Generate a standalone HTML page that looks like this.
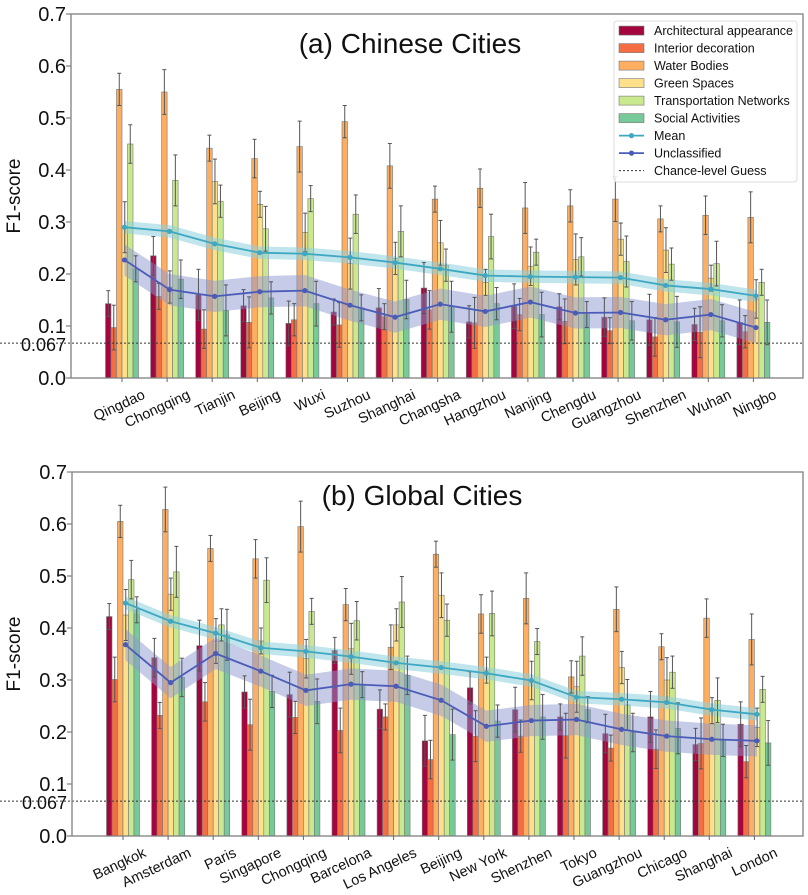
<!DOCTYPE html>
<html><head><meta charset="utf-8">
<style>
html,body{margin:0;padding:0;background:#fff;}
svg{display:block;font-family:"Liberation Sans",Arial,sans-serif;}
</style></head>
<body>
<svg id="s" width="808" height="895" viewBox="0 0 808 895" xmlns="http://www.w3.org/2000/svg"></svg>
<script>
const cols=["#a3053f","#f46d43","#fdae61","#fee08b","#c9e98f","#78c99a"];
const A={
 top:14,bot:378,left:71,right:803,title:"(a) Chinese Cities",tx:410,ty:53,
 cities:["Qingdao","Chongqing","Tianjin","Beijing","Wuxi","Suzhou","Shanghai","Changsha","Hangzhou","Nanjing","Chengdu","Guangzhou","Shenzhen","Wuhan","Ningbo"],
 v:[[0.143,0.097,0.555,0.29,0.45,0.21],[0.235,0.157,0.55,0.175,0.38,0.19],[0.16,0.094,0.442,0.378,0.34,0.13],[0.139,0.107,0.422,0.334,0.287,0.154],[0.105,0.112,0.445,0.28,0.345,0.143],[0.127,0.102,0.493,0.22,0.315,0.135],[0.135,0.118,0.408,0.23,0.282,0.151],[0.173,0.131,0.344,0.26,0.217,0.137],[0.108,0.106,0.365,0.184,0.272,0.143],[0.138,0.122,0.327,0.215,0.242,0.122],[0.137,0.109,0.331,0.228,0.233,0.122],[0.117,0.091,0.344,0.267,0.224,0.11],[0.112,0.079,0.306,0.246,0.219,0.108],[0.103,0.088,0.313,0.192,0.22,0.11],[0.107,0.089,0.309,0.152,0.184,0.107]],
 mean:[0.29,0.282,0.258,0.241,0.239,0.232,0.222,0.21,0.197,0.195,0.194,0.193,0.178,0.171,0.158],
 unc:[0.227,0.17,0.157,0.166,0.168,0.14,0.117,0.142,0.128,0.146,0.125,0.126,0.112,0.122,0.097],
 legend:true
};
const B={
 top:472,bot:836,left:72,right:803,title:"(b) Global Cities",tx:422,ty:505,
 cities:["Bangkok","Amsterdam","Paris","Singapore","Chongqing","Barcelona","Los Angeles","Beijing","New York","Shenzhen","Tokyo","Guangzhou","Chicago","Shanghai","London"],
 v:[[0.422,0.301,0.605,0.425,0.493,0.435],[0.343,0.232,0.628,0.465,0.508,0.305],[0.366,0.258,0.553,0.375,0.406,0.387],[0.277,0.214,0.533,0.375,0.492,0.278],[0.272,0.228,0.595,0.341,0.432,0.259],[0.357,0.203,0.445,0.36,0.414,0.291],[0.244,0.229,0.363,0.406,0.45,0.309],[0.183,0.147,0.542,0.463,0.415,0.195],[0.285,0.192,0.427,0.319,0.428,0.221],[0.243,0.192,0.457,0.299,0.374,0.229],[0.229,0.193,0.306,0.287,0.346,0.243],[0.197,0.169,0.436,0.324,0.252,0.199],[0.229,0.167,0.364,0.3,0.315,0.207],[0.176,0.178,0.419,0.241,0.261,0.184],[0.215,0.143,0.378,0.209,0.282,0.179]],
 mean:[0.448,0.413,0.39,0.362,0.355,0.345,0.333,0.324,0.313,0.299,0.267,0.263,0.257,0.243,0.234],
 unc:[0.368,0.295,0.351,0.317,0.28,0.292,0.288,0.261,0.211,0.222,0.224,0.205,0.192,0.186,0.183],
 legend:false
};
let out="";
function draw(P){
 const H=P.bot-P.top, Y=v=>P.bot-v/0.7*H;
 const cx=i=>122+i*45.1+(P===B?1:0);
 [0,0.1,0.2,0.3,0.4,0.5,0.6,0.7].forEach(t=>{
  const y=Y(t);
  out+=`<line x1="${P.left-5}" y1="${y}" x2="${P.left}" y2="${y}" stroke="#666" stroke-width="1"/>`;
  out+=`<text x="${P.left-5}" y="${y+7}" font-size="20" text-anchor="end" fill="#111">${t.toFixed(1)}</text>`;
 });
 const yc=Y(0.067);
 out+=`<text x="${P.left-5}" y="${yc+8}" font-size="18" text-anchor="end" fill="#111">0.067</text>`;
 out+=`<text transform="translate(20,${(P.top+P.bot)/2}) rotate(-90)" font-size="19" text-anchor="middle" fill="#111">F1-score</text>`;
 P.v.forEach((row,i)=>{
  const c=cx(i);
  row.forEach((val,j)=>{
   const x=c-16.5+j*5.5;
   out+=`<rect x="${x}" y="${Y(val)}" width="5.5" height="${Y(0)-Y(val)}" fill="${cols[j]}" stroke="#777" stroke-width="0.6"/>`;
  });
 });
 function band(arr,w,col,op){
  let up=arr.map((v,i)=>`${cx(i)+2.5},${Y(v+w)}`), dn=arr.map((v,i)=>`${cx(i)+2.5},${Y(v-w)}`).reverse();
  out+=`<polygon points="${up.join(" ")} ${dn.join(" ")}" fill="${col}" opacity="${op}"/>`;
 }
 band(P.mean,0.012,"#8ccfdc",0.55);
 band(P.unc,0.03,"#8d97cf",0.5);
 P.v.forEach((row,i)=>{
  const c=cx(i);
  row.forEach((val,j)=>{
   const x=c-16.5+j*5.5+2.75;
   const e=0.025+((i*7+j*3)%5)*0.006;
   out+=`<line x1="${x}" y1="${Y(val-e)}" x2="${x}" y2="${Y(val+e)}" stroke="#555" stroke-width="1"/>`;
   out+=`<line x1="${x-2}" y1="${Y(val+e)}" x2="${x+2}" y2="${Y(val+e)}" stroke="#555" stroke-width="1"/>`;
   out+=`<line x1="${x-2}" y1="${Y(val-e)}" x2="${x+2}" y2="${Y(val-e)}" stroke="#555" stroke-width="1"/>`;
  });
 });
 function line(arr,col){
  out+=`<polyline points="${arr.map((v,i)=>`${cx(i)+2.5},${Y(v)}`).join(" ")}" fill="none" stroke="${col}" stroke-width="1.8"/>`;
  arr.forEach((v,i)=>out+=`<circle cx="${cx(i)+2.5}" cy="${Y(v)}" r="2.6" fill="${col}"/>`);
 }
 line(P.mean,"#3ea8c2");
 line(P.unc,"#4b5cb8");
 out+=`<line x1="0" y1="${yc}" x2="${P.right}" y2="${yc}" stroke="#333" stroke-width="1" stroke-dasharray="2,2"/>`;
 out+=`<rect x="${P.left}" y="${P.top}" width="${P.right-P.left}" height="${H}" fill="none" stroke="#808080" stroke-width="1.3"/>`;
 P.cities.forEach((n,i)=>{
  const c=cx(i);
  out+=`<line x1="${c}" y1="${P.bot}" x2="${c}" y2="${P.bot+4}" stroke="#666"/>`;
  out+=`<text transform="translate(${c+24},${P.bot+20}) rotate(-25)" font-size="14.5" text-anchor="end" fill="#111">${n}</text>`;
 });
 out+=`<text x="${P.tx}" y="${P.ty}" font-size="28" text-anchor="middle" fill="#111">${P.title}</text>`;
 if(P.legend){
  out+=`<rect x="614" y="21" width="183" height="161" rx="3" fill="#fff" fill-opacity="0.85" stroke="#ddd"/>`;
  const names=["Architectural appearance","Interior decoration","Water Bodies","Green Spaces","Transportation Networks","Social Activities","Mean","Unclassified","Chance-level Guess"];
  names.forEach((n,k)=>{
   const y=30.6+k*17.5;
   if(k<6) out+=`<rect x="619" y="${y-4.5}" width="25" height="9" fill="${cols[k]}" stroke="#777" stroke-width="0.6"/>`;
   else if(k<8){const col=k==6?"#3ea8c2":"#4b5cb8";out+=`<line x1="619" y1="${y}" x2="644" y2="${y}" stroke="${col}" stroke-width="1.8"/><circle cx="631.5" cy="${y}" r="2.6" fill="${col}"/>`;}
   else out+=`<line x1="619" y1="${y}" x2="644" y2="${y}" stroke="#333" stroke-dasharray="2,2"/>`;
   out+=`<text x="654" y="${y+4.5}" font-size="12.5" fill="#111">${n}</text>`;
  });
 }
}
draw(A);draw(B);
document.getElementById("s").innerHTML=out;
</script>
</body></html>
